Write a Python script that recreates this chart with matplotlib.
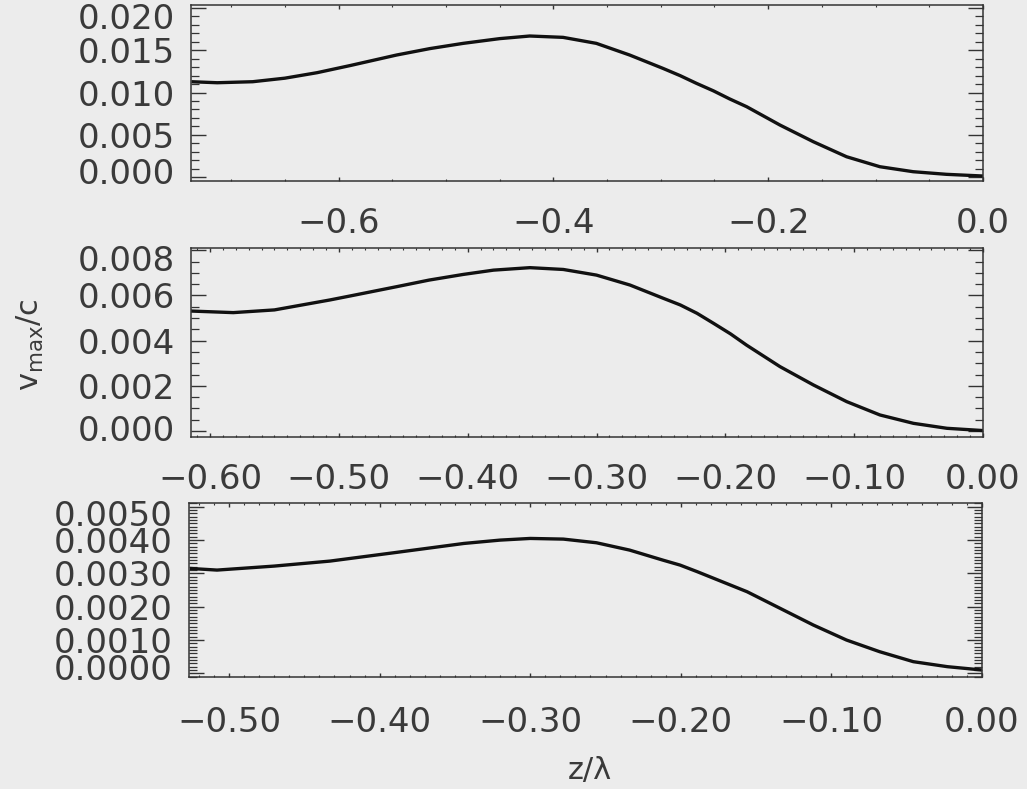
import matplotlib
matplotlib.use("Agg")
import matplotlib.pyplot as plt
from matplotlib.ticker import MultipleLocator, FixedLocator, FixedFormatter
import matplotlib.transforms as mtransforms

# ---------------- data ----------------
z1 = [-0.737, -0.713, -0.680, -0.650, -0.620, -0.589, -0.546, -0.515, -0.484, -0.450,
      -0.422, -0.391, -0.360, -0.329, -0.298, -0.282, -0.267, -0.251, -0.236, -0.220,
      -0.189, -0.158, -0.127, -0.096, -0.065, -0.034, 0.000]
v1 = [0.01128, 0.01116, 0.01128, 0.01170, 0.01235, 0.01320, 0.01444, 0.01520, 0.01582, 0.01638,
      0.01669, 0.01653, 0.01582, 0.01444, 0.01286, 0.01200, 0.01110, 0.01020, 0.00925, 0.00832,
      0.00615, 0.00418, 0.00240, 0.00122, 0.00063, 0.00032, 0.00012]

z2 = [-0.615, -0.582, -0.550, -0.507, -0.491, -0.455, -0.430, -0.4035, -0.380, -0.3517,
      -0.3258, -0.300, -0.274, -0.248, -0.235, -0.222, -0.209, -0.196, -0.1835, -0.1576,
      -0.1317, -0.1058, -0.080, -0.054, -0.028, 0.000]
v2 = [0.00531, 0.00524, 0.00536, 0.00580, 0.00598, 0.00639, 0.00668, 0.00693, 0.00712, 0.00723,
      0.00715, 0.00690, 0.00646, 0.00587, 0.00558, 0.00521, 0.00476, 0.00430, 0.00380, 0.00285,
      0.00204, 0.00130, 0.00071, 0.00034, 0.00012, 0.00002]

z3 = [-0.526, -0.508, -0.470, -0.433, -0.389, -0.344, -0.320, -0.300, -0.278, -0.256,
      -0.234, -0.212, -0.2005, -0.189, -0.178, -0.167, -0.156, -0.134, -0.112, -0.090,
      -0.068, -0.0456, -0.023, 0.000]
v3 = [0.00315, 0.00310, 0.00322, 0.00337, 0.00363, 0.00390, 0.00400, 0.00405, 0.00403, 0.00392,
      0.00370, 0.00340, 0.00325, 0.00305, 0.00285, 0.00265, 0.00245, 0.00195, 0.00145, 0.00100,
      0.00065, 0.00035, 0.00020, 0.00010]

xt1 = [-0.6, -0.4, -0.2, 0.0]
xt1_lab = ["\u22120.6", "\u22120.4", "\u22120.2", "0.0"]
yt1 = [0.000, 0.005, 0.010, 0.015, 0.020]
yt1_lab = ["0.000", "0.005", "0.010", "0.015", "0.020"]

xt2 = [-0.6, -0.5, -0.4, -0.3, -0.2, -0.1, 0.0]
xt2_lab = ["\u22120.60", "\u22120.50", "\u22120.40", "\u22120.30", "\u22120.20", "\u22120.10", "0.00"]
yt2 = [0.000, 0.002, 0.004, 0.006, 0.008]
yt2_lab = ["0.000", "0.002", "0.004", "0.006", "0.008"]

xt3 = [-0.5, -0.4, -0.3, -0.2, -0.1, 0.0]
xt3_lab = ["\u22120.50", "\u22120.40", "\u22120.30", "\u22120.20", "\u22120.10", "0.00"]
yt3 = [0.000, 0.001, 0.002, 0.003, 0.004, 0.005]
yt3_lab = ["0.0000", "0.0010", "0.0020", "0.0030", "0.0040", "0.0050"]

ylabel = r"$\mathregular{v_{max}/c}$"
xlabel = "z/\u03bb"

# ---------------- style ----------------
W, H = 1027, 789
BG = "#ececec"
TXT = "#3a3a3a"
plt.rcParams["font.family"] = ["DejaVu Sans"]
plt.rcParams["mathtext.default"] = "regular"

fig = plt.figure(figsize=(W / 100, H / 100), dpi=100, facecolor=BG)

def px_axes(left, right, top, bottom):
    return fig.add_axes([left / W, 1 - bottom / H, (right - left) / W, (bottom - top) / H])

panels = [
    dict(box=(191, 983, 5, 181), z=z1, v=v1, xlim=(-0.7374, 0.0), ylim=(-0.00047, 0.02036),
         xt=xt1, xl=xt1_lab, yt=yt1, yl=yt1_lab, xminor=0.05, yminor=0.001, xpad=18.5,
         shift_top=-8, shift_bot=6),
    dict(box=(191, 983, 248, 437), z=z2, v=v2, xlim=(-0.6148, 0.0), ylim=(-0.000265, 0.0081),
         xt=xt2, xl=xt2_lab, yt=yt2, yl=yt2_lab, xminor=0.01, yminor=0.0005, xpad=18.5,
         shift_top=-8, shift_bot=3),
    dict(box=(189, 982, 503, 677), z=z3, v=v3, xlim=(-0.5266, 0.0), ylim=(-0.00011, 0.005114),
         xt=xt3, xl=xt3_lab, yt=yt3, yl=yt3_lab, xminor=0.01, yminor=0.0001, xpad=21.0,
         shift_top=-6, shift_bot=6),
]

for p in panels:
    ax = px_axes(*p["box"])
    ax.set_facecolor(BG)
    ax.plot(p["z"], p["v"], color="#111111", lw=2.4, solid_capstyle="butt",
            solid_joinstyle="round")
    ax.set_xlim(*p["xlim"])
    ax.set_ylim(*p["ylim"])
    ax.xaxis.set_major_locator(FixedLocator(p["xt"]))
    ax.xaxis.set_major_formatter(FixedFormatter(p["xl"]))
    ax.yaxis.set_major_locator(FixedLocator(p["yt"]))
    ax.yaxis.set_major_formatter(FixedFormatter(p["yl"]))
    ax.xaxis.set_minor_locator(MultipleLocator(p["xminor"]))
    ax.yaxis.set_minor_locator(MultipleLocator(p["yminor"]))
    for s in ax.spines.values():
        s.set_linewidth(1.1)
        s.set_color("#333333")
    ax.tick_params(axis="both", which="both", direction="in", top=True, right=True,
                   color="#333333", labelcolor=TXT, labelsize=24.5)
    ax.tick_params(axis="y", which="major", length=11, width=1.0, pad=11.5)
    ax.tick_params(axis="y", which="minor", length=5.8, width=0.9)
    ax.tick_params(axis="x", which="major", length=3.2, width=1.0, pad=p["xpad"])
    ax.tick_params(axis="x", which="minor", length=1.6, width=0.8)
    labs = ax.get_yticklabels()
    if labs:
        labs[-1].set_transform(labs[-1].get_transform() +
                               mtransforms.ScaledTranslation(0, p["shift_top"] / 100, fig.dpi_scale_trans))
        labs[0].set_transform(labs[0].get_transform() +
                              mtransforms.ScaledTranslation(0, p["shift_bot"] / 100, fig.dpi_scale_trans))

fig.text(30 / W, 1 - 345 / H, ylabel, rotation=90, ha="center", va="center",
         fontsize=22, color=TXT)
fig.text(590 / W, 1 - 770 / H, xlabel, ha="center", va="center", fontsize=22, color=TXT)

fig.savefig("out.png", dpi=100, facecolor=BG)
